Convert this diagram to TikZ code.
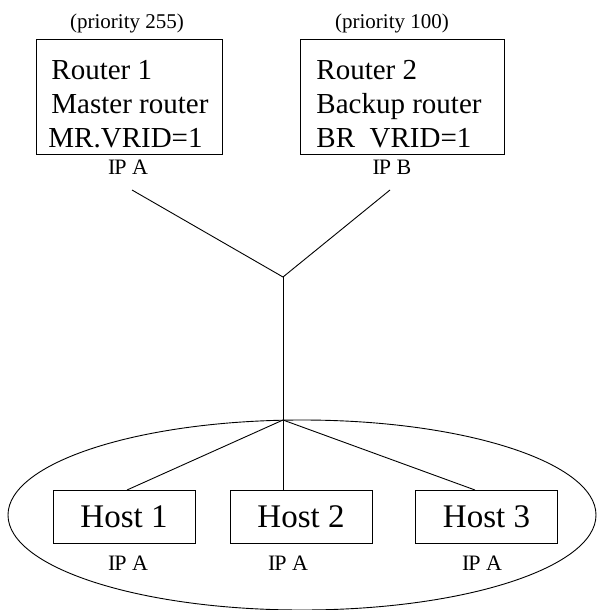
\documentclass[tikz,border=0pt]{standalone}
\usepackage{fontspec}
\setmainfont{Liberation Serif}
\usetikzlibrary{calc}
\begin{document}
\begin{tikzpicture}[x=1pt,y=-1pt,line width=0.9pt,
  rbox/.style={draw,rectangle,inner sep=0pt,minimum height=115pt},
  hbox/.style={draw,rectangle,inner sep=0pt,minimum width=142pt,minimum height=53pt,font=\fontsize{33}{38}\selectfont},
  rtext/.style={anchor=base west,inner sep=0pt,font=\fontsize{29}{34}\selectfont},
  prio/.style={inner sep=0pt,font=\fontsize{21}{24}\selectfont},
  iplab/.style={inner sep=0pt,font=\fontsize{22}{25}\selectfont}]
\useasboundingbox (0,0) rectangle (597,610);
% routers
\node[rbox,minimum width=186pt] (r1) at (129,96.5) {};
\node[rbox,minimum width=204pt] (r2) at (402,96.5) {};
\node[rtext] (r1a) at (51,79) {Router 1};
\node[rtext] (r1b) at (51,113) {Master router};
\node[rtext] (r1c) at (48,147) {MR.VRID=1};
\node[rtext] (r2a) at (316,79) {Router 2};
\node[rtext] (r2b) at (316,113) {Backup router};
\node[rtext] (r2c) at (316,147) {BR\ \ VRID=1};
\node[prio] (p1) at (127,23) {(priority 255)};
\node[prio] (p2) at (392,23) {(priority 100)};
\node[iplab] (ip1) at (128,167) {I\kern-1ptP A};
\node[iplab] (ip2) at (392,167) {I\kern-1ptP B};
% network
\coordinate (s1) at (132,190);
\coordinate (s2) at (390,190);
\coordinate (j1) at (283,277);
\coordinate (j2) at (283,420);
\draw (s1) -- (j1) -- (s2);
\draw (j1) -- (j2);
% ellipse
\draw (302,515) ellipse [x radius=294pt,y radius=95pt];
% hosts
\node[hbox] (h1) at (124,516.5) {Host 1};
\node[hbox] (h2) at (301,516.5) {Host 2};
\node[hbox] (h3) at (486.5,516.5) {Host 3};
\coordinate (t1) at (127,490);
\coordinate (t2) at (283,490);
\coordinate (t3) at (475,490);
\draw (j2) -- (t1);
\draw (j2) -- (t2);
\draw (j2) -- (t3);
\node[iplab] (ip3) at (128,563) {I\kern-1ptP A};
\node[iplab] (ip4) at (288,563) {I\kern-1ptP A};
\node[iplab] (ip5) at (482,563) {I\kern-1ptP A};
\end{tikzpicture}
\end{document}
